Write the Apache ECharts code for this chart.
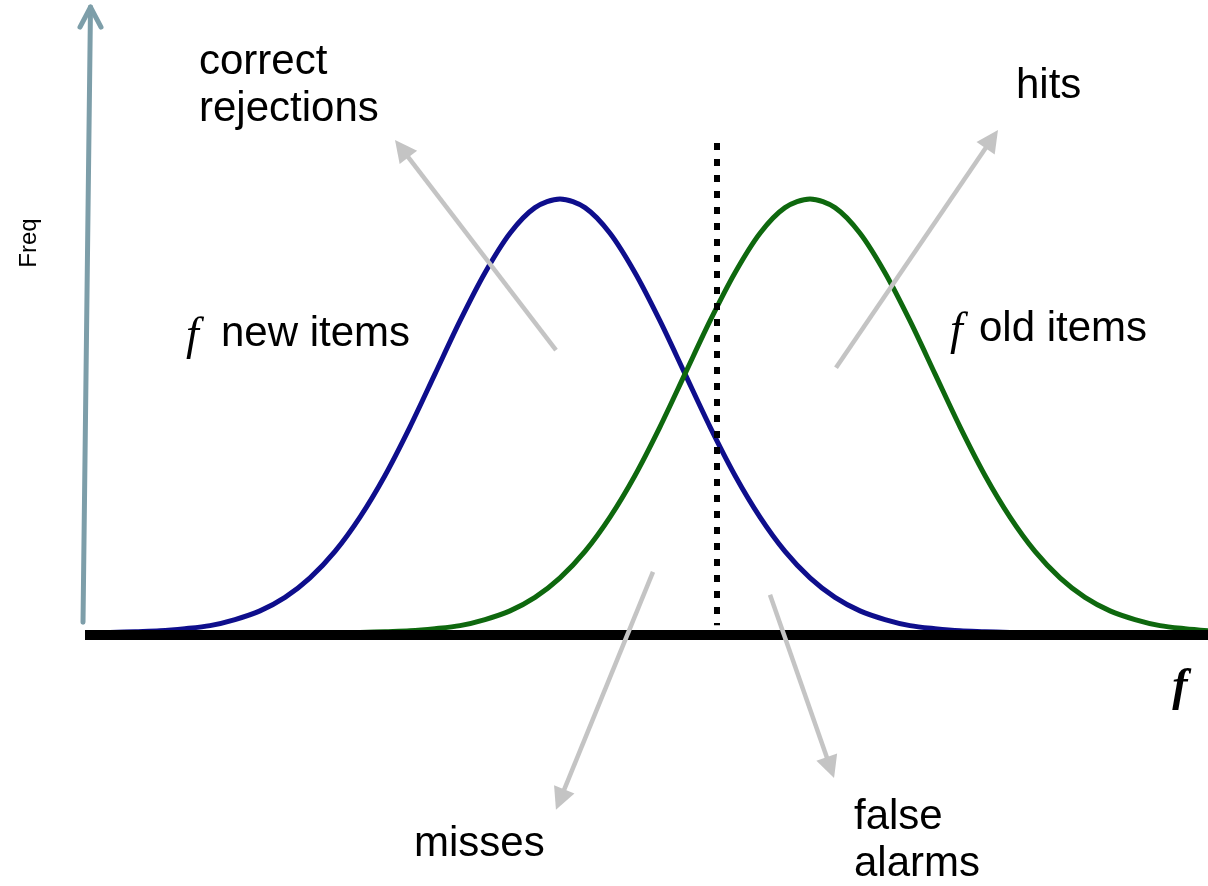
<!DOCTYPE html>
<html>
<head>
<meta charset="utf-8">
<script src="https://cdn.jsdelivr.net/npm/echarts@6/dist/echarts.min.js"></script>
<style>
  html, body { margin: 0; padding: 0; background: #fff; }
  #chart { width: 1208px; height: 886px; }
</style>
</head>
<body>
<div id="chart"></div>
<script>
// familiarity axis (f), sampled every 0.25
const fValues = [1.1, 1.35, 1.6, 1.85, 2.1, 2.35, 2.6, 2.85, 3.1, 3.35, 3.6, 3.85, 4.1, 4.35, 4.6, 4.85,
  5.1, 5.35, 5.6, 5.85, 6.1, 6.35, 6.6, 6.85, 7.1, 7.35, 7.6, 7.85, 8.1, 8.35, 8.6, 8.85, 9.1, 9.35,
  9.6, 9.85, 10.1, 10.35, 10.6, 10.85, 11.1, 11.35, 11.6, 11.85, 12.1];

// relative frequency of new items (blue) and old items (green)
const newItems = [0.001, 0.003, 0.005, 0.010, 0.017, 0.031, 0.051, 0.082, 0.127, 0.188, 0.267, 0.363,
  0.475, 0.597, 0.719, 0.830, 0.921, 0.980, 1.000, 0.980, 0.921, 0.830, 0.719, 0.597, 0.475, 0.363,
  0.267, 0.188, 0.127, 0.082, 0.051, 0.031, 0.017, 0.010, 0.005, 0.003, 0.001,
  null, null, null, null, null, null, null, null];
const oldItems = [null, null, null, null, null, null, null, null, null, null,
  0.001, 0.003, 0.005, 0.010, 0.017, 0.031, 0.051, 0.082, 0.127, 0.188, 0.267, 0.363,
  0.475, 0.597, 0.719, 0.830, 0.921, 0.980, 1.000, 0.980, 0.921, 0.830, 0.719, 0.597, 0.475, 0.363,
  0.267, 0.188, 0.127, 0.082, 0.051, 0.031, 0.017, 0.010, 0.005];

// decision criterion
const criterion = 7.17;

// annotation arrows [from, to] in chart units (to = centre of the arrow head)
const arrowNames = ['correct rejections', 'hits', 'misses', 'false alarms'];
const arrowFrom = [[5.56, 0.652], [8.36, 0.611], [6.53, 0.141], [7.70, 0.088]];
const arrowTo = [[4.017, 1.116], [9.918, 1.138], [5.601, -0.384], [8.304, -0.310]];

const COLORS = {
  newItems: '#0e0e8c',
  oldItems: '#0e680e',
  arrow: '#c4c4c4',
  freqAxis: '#7d9ea9'
};
const SANS = '"Liberation Sans", Arial, sans-serif';
const SERIF = '"Liberation Serif", "Times New Roman", serif';

function pairs(xs, ys) {
  return xs.map((x, i) => [x, ys[i]]);
}

function label(text, x, y, extra) {
  return {
    type: 'text', x: x, y: y, z: 10,
    style: Object.assign({
      text: text, fill: '#000', font: '42px ' + SANS,
      textAlign: 'left', textVerticalAlign: 'middle'
    }, extra || {})
  };
}

const chart = echarts.init(document.getElementById('chart'), null, { renderer: 'canvas' });

const option = {
  animation: false,
  backgroundColor: '#fff',
  grid: { left: 0, right: 0, top: 0, bottom: 0 },
  xAxis: { type: 'value', min: 0, max: 12.08, show: false },
  yAxis: { type: 'value', min: -0.583, max: 1.4585, show: false },
  series: [
    {
      name: 'new items', type: 'line', smooth: 0.3, showSymbol: false, z: 2,
      data: pairs(fValues, newItems), connectNulls: false,
      lineStyle: { color: COLORS.newItems, width: 5 }
    },
    {
      name: 'old items', type: 'line', smooth: 0.3, showSymbol: false, z: 2,
      data: pairs(fValues, oldItems), connectNulls: false,
      lineStyle: { color: COLORS.oldItems, width: 5 }
    },
    {
      // axes and criterion
      type: 'lines', coordinateSystem: 'cartesian2d', z: 4, silent: true,
      symbol: 'none',
      data: [
        { coords: [[0.85, -0.0046], [12.08, -0.0046]], lineStyle: { color: '#000', width: 10, opacity: 1 } },
        { coords: [[0.83, 0.025], [0.905, 1.442]], lineStyle: { color: COLORS.freqAxis, width: 5, opacity: 1, cap: 'round' } },
        { coords: [[0.905, 1.442], [0.80, 1.396]], lineStyle: { color: COLORS.freqAxis, width: 5, opacity: 1, cap: 'round' } },
        { coords: [[0.905, 1.442], [1.01, 1.396]], lineStyle: { color: COLORS.freqAxis, width: 5, opacity: 1, cap: 'round' } },
        { coords: [[criterion, 1.129], [criterion, 0.018]], lineStyle: { color: '#000', width: 6, opacity: 1, type: [7, 9], cap: 'butt' } }
      ]
    },
    {
      type: 'lines', coordinateSystem: 'cartesian2d', z: 5, silent: true,
      symbol: ['none', 'triangle'], symbolSize: [24, 22],
      lineStyle: { color: COLORS.arrow, width: 4.5, opacity: 1 },
      data: arrowNames.map((n, i) => ({ name: n, coords: [arrowFrom[i], arrowTo[i]] }))
    }
  ],
  graphic: [
    label('correct', 199, 62),
    label('rejections', 199, 109),
    label('hits', 1016, 86),
    label('f', 186, 337, { font: 'italic 46px ' + SERIF }),
    label('new items', 221, 334),
    label('f', 950, 332, { font: 'italic 46px ' + SERIF }),
    label('old items', 979, 329),
    label('misses', 414, 844),
    label('false', 854, 817),
    label('alarms', 854, 864),
    label('f', 1180, 688, { font: 'bold italic 46px ' + SERIF, textAlign: 'center' }),
    {
      type: 'text', x: 29, y: 243, rotation: Math.PI / 2, z: 10,
      style: { text: 'Freq', fill: '#000', font: '24px ' + SANS, textAlign: 'center', textVerticalAlign: 'middle' }
    }
  ]
};

chart.setOption(option);
window.addEventListener('resize', chart.resize);
</script>
</body>
</html>
